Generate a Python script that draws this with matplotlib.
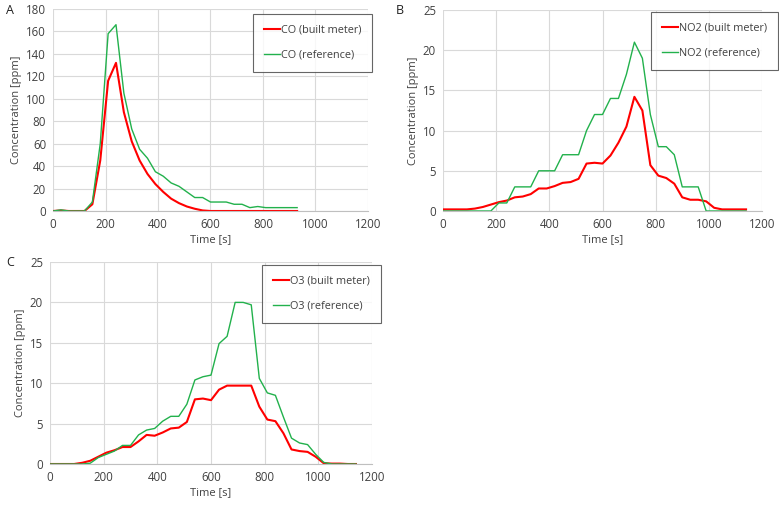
import numpy as np
import matplotlib
matplotlib.use("Agg")
import matplotlib.pyplot as plt

plt.rcParams["font.family"] = ["Open Sans", "DejaVu Sans"]
plt.rcParams["font.size"] = 7.5

# Panel A - CO
t_co = list(range(0, 931, 30))
co_built = [0, 0.5, 0, 0, 0, 6, 45, 116, 132, 88, 62, 45, 33, 24, 17, 11, 7, 4, 2, 0.5,
            0, 0, 0, 0, 0, 0, 0, 0, 0, 0, 0, 0]
co_ref = [0, 1, 0, 0, 0, 8, 60, 158, 166, 105, 73, 55, 47, 35, 31, 25, 22, 17, 12, 12,
          8, 8, 8, 6, 6, 3, 4, 3, 3, 3, 3, 3]

# Panel B - NO2
t_no2 = list(range(0, 1141, 30))
no2_built = [0.2, 0.2, 0.2, 0.2, 0.3, 0.5, 0.8, 1.1, 1.3, 1.7, 1.8, 2.1, 2.8, 2.8, 3.1,
             3.5, 3.6, 4.0, 5.9, 6.0, 5.9, 6.9, 8.5, 10.5, 14.2, 12.5, 5.7, 4.4, 4.1,
             3.4, 1.7, 1.4, 1.4, 1.2, 0.4, 0.2, 0.2, 0.2, 0.2]
no2_ref = [0, 0, 0, 0, 0, 0, 0, 1, 1, 3, 3, 3, 5, 5, 5, 7, 7, 7, 10, 12, 12, 14, 14, 17,
           21, 19, 12, 8, 8, 7, 3, 3, 3, 0, 0, 0, 0, 0, 0]

# Panel C - O3
t_o3 = list(range(0, 1141, 30))
o3_built = [0, 0, 0, 0, 0.15, 0.4, 0.9, 1.4, 1.7, 2.1, 2.1, 2.8, 3.6, 3.5, 3.9, 4.4, 4.5,
            5.2, 8.0, 8.1, 7.9, 9.2, 9.7, 9.7, 9.7, 9.7, 7.1, 5.5, 5.3, 3.8, 1.8, 1.6,
            1.5, 0.9, 0.1, 0.05, 0.05, 0, 0]
o3_ref = [0, 0, 0, 0, 0, 0.1, 0.8, 1.2, 1.6, 2.3, 2.3, 3.6, 4.2, 4.4, 5.3, 5.9, 5.9, 7.4,
          10.4, 10.8, 11.0, 14.9, 15.8, 20.0, 20.0, 19.7, 10.6, 8.8, 8.5, 5.8, 3.2, 2.6,
          2.4, 1.2, 0.2, 0, 0, 0, 0]

RED = "#ff0000"
GREEN = "#22b14c"
W, H = 779, 505

fig = plt.figure(figsize=(W / 100, H / 100), dpi=100)


def panel(rect, letter, letter_xy, t, built, ref, gas, ymax, ystep, leg_xy):
    l, top, r, b = rect
    ax = fig.add_axes([l / W, 1 - b / H, (r - l) / W, (b - top) / H])
    ax.plot(t, built, color=RED, lw=1.5, label=f"{gas} (built meter)")
    ax.plot(t, ref, color=GREEN, lw=1.0, label=f"{gas} (reference)")
    ax.set_xlim(0, 1200)
    ax.set_ylim(0, ymax)
    ax.set_xticks(np.arange(0, 1201, 200))
    ax.set_yticks(np.arange(0, ymax + 0.1, ystep))
    ax.grid(True, color="#d9d9d9", lw=0.8)
    ax.set_axisbelow(True)
    for s in ["top", "right", "left"]:
        ax.spines[s].set_visible(False)
    ax.spines["bottom"].set_color("#bfbfbf")
    ax.tick_params(length=0, pad=5, colors="#404040", labelsize=8.3)
    ax.set_xlabel("Time [s]", color="#404040", labelpad=2, fontsize=8)
    ax.set_ylabel("Concentration [ppm]", color="#404040", labelpad=3, fontsize=8)
    ll, lt = leg_xy
    leg = ax.legend(loc="upper left",
                    bbox_to_anchor=((ll - l) / (r - l), (b - lt) / (b - top)),
                    borderaxespad=0, frameon=True, fancybox=False, borderpad=1.0,
                    labelspacing=1.3, handlelength=1.5, handletextpad=0.1,
                    fontsize=7.8)
    leg.get_frame().set_edgecolor("#404040")
    leg.get_frame().set_linewidth(0.8)
    for txt in leg.get_texts():
        txt.set_color("#404040")
    fig.text(letter_xy[0] / W, 1 - letter_xy[1] / H, letter, fontsize=9,
             va="center", ha="left", color="#202020")
    return ax


panel((53, 9, 368, 211), "A", (6, 11), t_co, co_built, co_ref, "CO", 180, 20,
      (253, 14))
panel((443, 10, 762, 211), "B", (396, 11), t_no2, no2_built, no2_ref, "NO2", 25, 5,
      (651, 12))
panel((50, 262, 372, 464), "C", (6, 263), t_o3, o3_built, o3_ref, "O3", 25, 5,
      (262, 265))

fig.savefig("out.png", dpi=100)
